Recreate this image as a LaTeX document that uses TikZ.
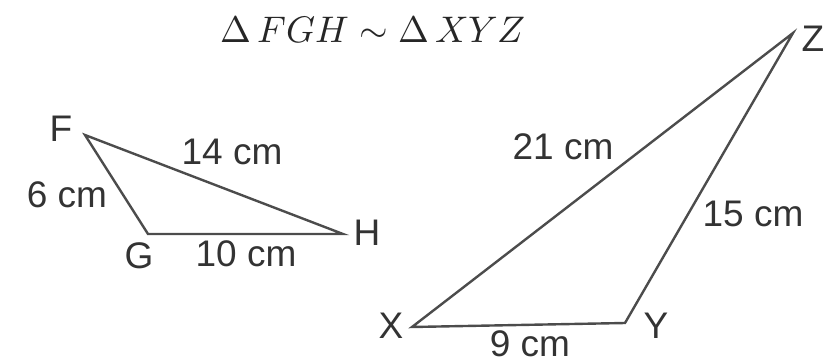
\documentclass[tikz,border=0pt]{standalone}
\usepackage{fontspec}
\setmainfont{Liberation Sans}
\usepackage{unicode-math}
\setmathfont{Latin Modern Math}
\begin{document}
\begin{tikzpicture}[x=1pt,y=-1pt,
  lbl/.style={font=\fontsize{37}{40}\selectfont, text=black!80, inner sep=0pt, anchor=center},
  side/.style={draw=black!70, line width=2.4pt, line join=miter}]
\useasboundingbox (0,0) rectangle (836,364);
% vertices
\coordinate (F) at (85,135);
\coordinate (G) at (148,234);
\coordinate (H) at (343,234);
\coordinate (X) at (412,327);
\coordinate (Y) at (625,323);
\coordinate (Z) at (793,33);
\draw[side] (F) -- (G) -- (H) -- cycle;
\draw[side] (X) -- (Y) -- (Z) -- cycle;
% vertex labels
\node[lbl] (lF) at (61,129) {F};
\node[lbl] (lG) at (139,256) {G};
\node[lbl] (lH) at (367,233) {H};
\node[lbl] (lX) at (391,326) {X};
\node[lbl] (lY) at (656,326) {Y};
\node[lbl] (lZ) at (813,39) {Z};
% side labels
\node[lbl] (s14) at (232,152) {14 cm};
\node[lbl] (s6) at (67,195) {6 cm};
\node[lbl] (s10) at (246,254) {10 cm};
\node[lbl] (s21) at (563,147) {21 cm};
\node[lbl] (s15) at (753,214) {15 cm};
\node[lbl] (s9) at (530,344) {9 cm};
% title
\node[inner sep=0pt, text=black!85, font=\fontsize{37}{40}\selectfont] (title) at (373,30) {$\mupDelta\,FGH\sim\mupDelta\,XYZ$};
\end{tikzpicture}
\end{document}
